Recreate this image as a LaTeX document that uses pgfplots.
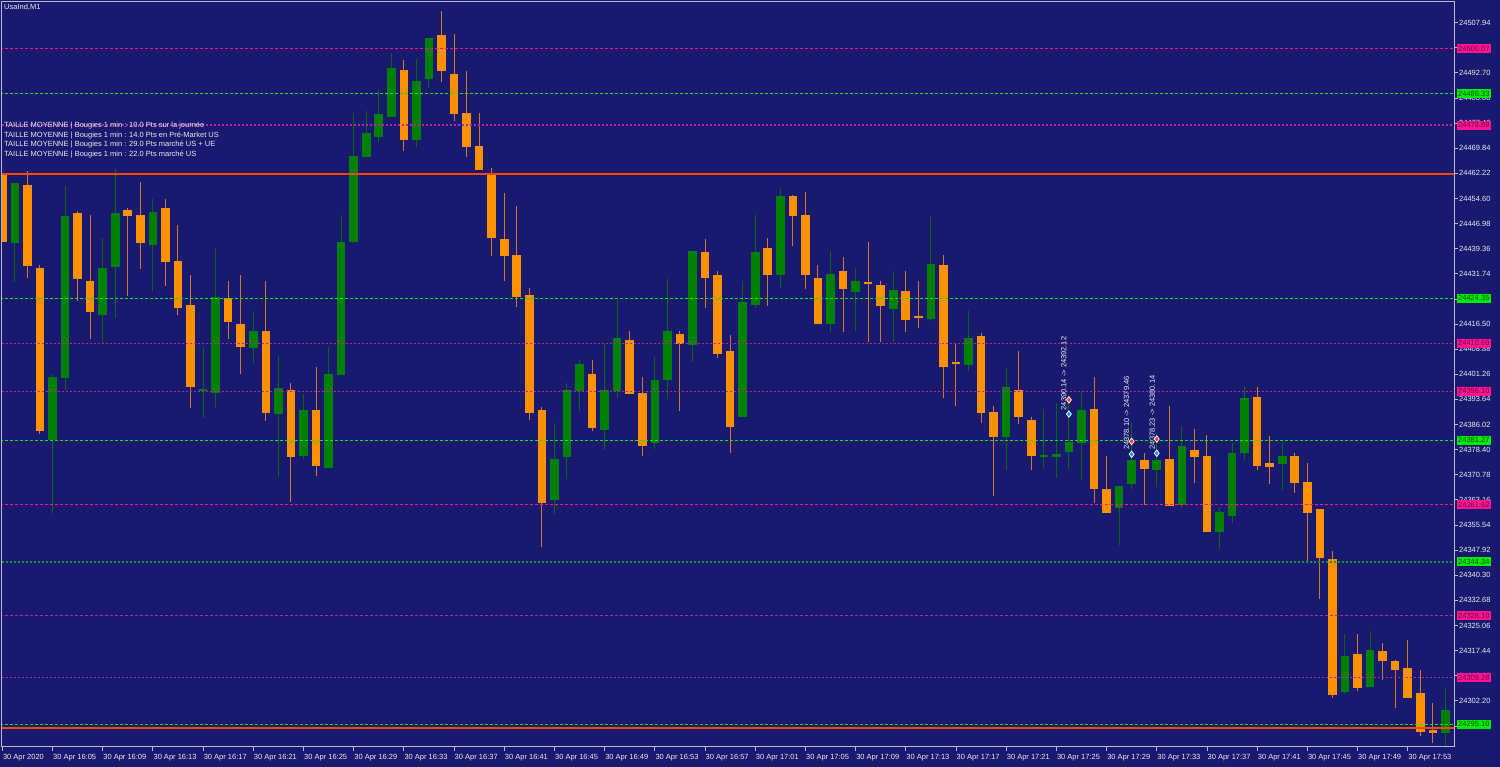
\documentclass[border=0pt]{standalone}
\usepackage{fontspec}
\setmainfont{Liberation Sans}
\usepackage{pgfplots}
\pgfplotsset{compat=1.18}
\usepackage{pgfplotstable}

\definecolor{bg}{RGB}{25,25,112}
\definecolor{frame}{RGB}{185,185,210}
\definecolor{bull}{RGB}{0,128,0}
\definecolor{bullwick}{RGB}{0,110,0}
\definecolor{bear}{RGB}{255,145,0}
\definecolor{bearwick}{RGB}{215,120,40}
\definecolor{lvlpink}{RGB}{255,20,147}
\definecolor{lvlpurple}{RGB}{175,40,160}
\definecolor{lvlgreen}{RGB}{0,235,0}
\definecolor{lvldkgreen}{RGB}{20,150,60}
\definecolor{dayline}{RGB}{255,69,0}
\definecolor{txt}{RGB}{235,235,235}
\definecolor{redmark}{RGB}{255,60,30}
\definecolor{bluemark}{RGB}{30,144,255}

% candles, 1 min, 30 Apr 16:01 = 0
\pgfplotstableread{
i o h l c
1 24441.2 24459.4 24429.4 24459.4
4 24381.4 24401.3 24359.3 24400.4
5 24400.3 24458.4 24396.5 24449.4
8 24419.5 24442.6 24410.7 24433.6
9 24434.1 24463.5 24418.5 24450.4
12 24440.5 24454.5 24426.6 24450.6
16 24396.5 24409.5 24388.1 24396.6
17 24395.5 24439.7 24391.2 24424.7
20 24409.4 24420.5 24404.3 24414.4
22 24389.5 24406.8 24370.2 24397.4
24 24376.6 24395.3 24375.5 24390.5
26 24373.1 24409.5 24373.1 24401.6
27 24401.1 24449.6 24401.1 24441.5
28 24441.5 24480.5 24441.2 24467.5
29 24467.3 24481.3 24467.3 24474.4
30 24473.4 24487.5 24471.4 24480.3
31 24479.4 24498.7 24479.4 24494.4
33 24472.4 24497.2 24470.3 24490.3
34 24490.8 24503.4 24488.2 24503.4
44 24363.2 24386.6 24359.1 24375.6
45 24376.3 24398.6 24369.4 24396.5
46 24396.3 24405.6 24390.3 24404.4
48 24384.4 24410.7 24378.5 24396.5
49 24396.3 24423.8 24394.0 24412.3
52 24380.4 24406.6 24378.5 24399.6
53 24399.6 24430.4 24394.0 24414.4
55 24410.4 24438.7 24405.1 24438.7
59 24388.6 24429.7 24388.6 24423.3
60 24422.3 24449.6 24421.3 24438.5
62 24431.4 24457.5 24427.4 24455.4
66 24416.5 24438.7 24414.2 24431.6
68 24426.2 24433.5 24414.5 24429.6
71 24421.1 24432.7 24411.0 24426.9
74 24418.1 24449.4 24417.5 24434.7
77 24404.3 24420.5 24402.4 24412.5
80 24382.4 24403.4 24372.5 24397.4
83 24376.5 24390.7 24372.8 24376.6
84 24376.3 24392.5 24369.8 24377.3
85 24377.6 24395.0 24372.5 24380.7
86 24380.4 24396.2 24369.2 24390.5
89 24360.7 24367.5 24349.5 24367.5
90 24368.2 24386.4 24366.5 24375.3
92 24372.3 24383.4 24367.2 24375.3
94 24361.7 24385.6 24360.7 24379.5
97 24353.4 24361.1 24348.2 24359.4
98 24358.4 24380.4 24356.3 24377.5
99 24377.6 24397.7 24375.3 24394.3
102 24374.3 24380.7 24366.2 24376.6
107 24305.0 24322.7 24304.3 24315.9
109 24306.5 24323.5 24306.5 24317.7
115 24292.6 24306.5 24288.6 24299.5
}\upbars

\pgfplotstableread{
i o h l c
0 24462.3 24462.3 24441.5 24441.5
2 24458.7 24462.8 24430.4 24434.1
3 24433.6 24434.5 24383.1 24384.1
6 24450.4 24450.6 24423.3 24430.2
7 24429.7 24449.6 24412.0 24420.3
10 24451.3 24451.7 24425.1 24449.4
11 24449.6 24459.7 24433.2 24441.3
13 24451.7 24454.5 24428.1 24435.5
14 24435.7 24446.6 24419.3 24421.5
15 24422.3 24431.6 24391.2 24397.4
18 24424.5 24429.7 24412.0 24417.3
19 24416.6 24431.4 24401.3 24409.4
21 24414.4 24429.6 24387.2 24389.5
23 24396.5 24398.6 24362.4 24376.3
25 24390.5 24403.6 24370.5 24373.6
32 24493.6 24496.6 24469.1 24472.2
35 24504.4 24511.5 24490.1 24493.3
36 24492.4 24504.5 24478.2 24480.2
37 24480.5 24493.4 24467.3 24470.3
38 24470.5 24480.5 24463.3 24463.3
39 24462.4 24463.8 24437.2 24442.6
40 24442.6 24456.2 24429.6 24437.3
41 24437.5 24452.4 24421.5 24424.7
42 24425.4 24427.4 24387.4 24389.7
43 24390.5 24391.5 24349.0 24362.4
47 24401.6 24405.6 24384.2 24385.2
50 24411.6 24414.5 24395.2 24395.2
51 24395.7 24400.6 24376.5 24379.5
54 24413.5 24414.4 24390.3 24410.4
56 24438.5 24442.6 24421.5 24430.4
57 24431.4 24432.6 24406.2 24407.5
58 24408.5 24413.2 24377.5 24385.4
61 24439.7 24442.7 24422.1 24431.4
63 24455.4 24455.7 24440.3 24449.4
64 24449.6 24456.5 24427.2 24431.4
65 24430.6 24434.5 24416.5 24416.5
67 24432.6 24436.8 24414.2 24427.2
69 24429.4 24441.5 24411.2 24428.6
70 24428.6 24429.6 24411.2 24422.1
72 24426.4 24432.6 24414.2 24417.6
73 24418.8 24429.6 24415.3 24418.2
75 24434.5 24437.5 24394.2 24403.6
76 24404.7 24410.5 24391.5 24404.6
78 24412.9 24413.7 24386.4 24389.5
79 24389.8 24391.7 24364.4 24382.2
81 24396.5 24408.5 24386.2 24388.4
82 24387.4 24388.4 24372.3 24376.5
87 24390.7 24400.6 24362.5 24366.5
88 24366.4 24376.6 24359.3 24359.3
91 24375.3 24377.5 24361.7 24372.5
93 24375.6 24391.7 24361.4 24361.4
95 24378.3 24384.7 24368.2 24376.3
96 24376.6 24382.8 24353.4 24353.4
100 24394.5 24397.5 24372.1 24373.6
101 24374.5 24382.6 24368.0 24373.3
103 24376.6 24377.6 24365.2 24368.4
104 24368.5 24374.5 24344.5 24359.3
105 24360.4 24360.4 24333.1 24345.5
106 24345.5 24347.7 24303.2 24304.0
108 24316.5 24322.7 24305.2 24306.2
110 24317.4 24319.7 24308.6 24314.3
111 24314.3 24314.6 24300.0 24311.6
112 24312.4 24320.7 24303.3 24303.3
113 24304.5 24311.6 24291.4 24292.6
114 24293.4 24301.7 24289.4 24292.4
}\downbars

\newcommand{\mtfont}{\fontsize{7.5}{8}\selectfont}

\begin{document}
\begin{tikzpicture}[x=1pt,y=1pt]
\fill[bg] (0,0) rectangle (1500,767);

\begin{axis}[
    at={(2pt,20pt)}, anchor=south west,
    scale only axis, width=1452pt, height=745pt,
    xmin=-0.024, xmax=115.69,
    ymin=24288.2, ymax=24514.2,
    scaled x ticks=false, scaled y ticks=false,
    axis line style={frame, line width=1pt},
    tick align=outside, major tick length=4pt,
    tick style={frame, line width=0.8pt},
    xtick pos=left, ytick pos=right,
    xtick={0,4,...,112},
    xticklabels={30 Apr 2020, 30 Apr 16:05, 30 Apr 16:09, 30 Apr 16:13, 30 Apr 16:17, 30 Apr 16:21, 30 Apr 16:25, 30 Apr 16:29, 30 Apr 16:33, 30 Apr 16:37, 30 Apr 16:41, 30 Apr 16:45, 30 Apr 16:49, 30 Apr 16:53, 30 Apr 16:57, 30 Apr 17:01, 30 Apr 17:05, 30 Apr 17:09, 30 Apr 17:13, 30 Apr 17:17, 30 Apr 17:21, 30 Apr 17:25, 30 Apr 17:29, 30 Apr 17:33, 30 Apr 17:37, 30 Apr 17:41, 30 Apr 17:45, 30 Apr 17:49, 30 Apr 17:53},
    x tick label style={anchor=north west, inner sep=0pt, xshift=0.5pt, yshift=-3pt},
    ytick={24507.94,24500.32,24492.70,24485.08,24477.46,24469.84,24462.22,24454.60,24446.98,24439.36,24431.74,24424.12,24416.50,24408.88,24401.26,24393.64,24386.02,24378.40,24370.78,24363.16,24355.54,24347.92,24340.30,24332.68,24325.06,24317.44,24309.82,24302.20,24294.58},
    yticklabels={24507.94,24500.32,24492.70,24485.08,24477.46,24469.84,24462.22,24454.60,24446.98,24439.36,24431.74,24424.12,24416.50,24408.88,24401.26,24393.64,24386.02,24378.40,24370.78,24363.16,24355.54,24347.92,24340.30,24332.68,24325.06,24317.44,24309.82,24302.20,24294.58},
    y tick label style={anchor=west, inner sep=0pt, xshift=1pt},
    ticklabel style={font=\mtfont, text=txt},
]

% wicks
\addplot[forget plot, draw=none, no markers,
    error bars/.cd, y dir=both, y explicit, error mark=none,
    error bar style={draw=bullwick, line width=1pt}]
    table[x=i, y expr={(\thisrow{h}+\thisrow{l})/2}, y error expr={(\thisrow{h}-\thisrow{l})/2}] {\upbars};
\addplot[forget plot, draw=none, no markers,
    error bars/.cd, y dir=both, y explicit, error mark=none,
    error bar style={draw=bearwick, line width=1pt}]
    table[x=i, y expr={(\thisrow{h}+\thisrow{l})/2}, y error expr={(\thisrow{h}-\thisrow{l})/2}] {\downbars};
% bodies
\addplot[forget plot, draw=none, no markers,
    error bars/.cd, y dir=both, y explicit, error mark=none,
    error bar style={draw=bull, line width=8.6pt}]
    table[x=i, y expr={(\thisrow{o}+\thisrow{c})/2}, y error expr={max((\thisrow{c}-\thisrow{o})/2,0.25)}] {\upbars};
\addplot[forget plot, draw=none, no markers,
    error bars/.cd, y dir=both, y explicit, error mark=none,
    error bar style={draw=bear, line width=8.6pt}]
    table[x=i, y expr={(\thisrow{o}+\thisrow{c})/2}, y error expr={max((\thisrow{o}-\thisrow{c})/2,0.25)}] {\downbars};

% levels
\addplot[lvlpink, line width=1pt, dash pattern=on 3pt off 2pt] coordinates {(-1,24500.07) (117,24500.07)};
\addplot[lvlgreen, line width=1pt, dash pattern=on 3pt off 2pt] coordinates {(-1,24486.33) (117,24486.33)};
\addplot[lvlpurple, line width=1.4pt, dash pattern=on 2pt off 2pt] coordinates {(-1,24476.88) (117,24476.88)};
\addplot[dayline, line width=2pt] coordinates {(-1,24462.05) (117,24462.05)};
\addplot[lvlgreen, line width=1pt, dash pattern=on 3pt off 2pt] coordinates {(-1,24424.35) (117,24424.35)};
\addplot[lvlpurple, line width=1.4pt, dash pattern=on 2pt off 2pt] coordinates {(-1,24410.69) (117,24410.69)};
\addplot[lvlpurple, line width=1.4pt, dash pattern=on 2pt off 2pt] coordinates {(-1,24396.10) (117,24396.10)};
\addplot[lvlgreen, line width=1pt, dash pattern=on 3pt off 2pt] coordinates {(-1,24381.27) (117,24381.27)};
\addplot[lvlpink, line width=1pt, dash pattern=on 3pt off 2pt] coordinates {(-1,24361.62) (117,24361.62)};
\addplot[lvldkgreen, line width=1.4pt, dash pattern=on 2pt off 2pt] coordinates {(-1,24344.34) (117,24344.34)};
\addplot[lvlpurple, line width=1pt, dash pattern=on 3pt off 2pt] coordinates {(-1,24328.10) (117,24328.10)};
\addplot[lvlpurple, line width=1.4pt, dash pattern=on 2pt off 2pt] coordinates {(-1,24309.28) (117,24309.28)};
\addplot[lvlgreen, line width=1pt, dash pattern=on 3pt off 2pt] coordinates {(-1,24295.10) (117,24295.10)};
\addplot[dayline, line width=2pt] coordinates {(-1,24294.0) (117,24294.0)};

% trades
\addplot[only marks, mark=diamond*, mark size=3.3pt, mark options={fill=bluemark, draw=white, line width=0.7pt}]
    coordinates {(85,24389.2) (90,24377.0) (92,24377.3)};
\addplot[only marks, mark=diamond*, mark size=3.3pt, mark options={fill=redmark, draw=white, line width=0.7pt}]
    coordinates {(85,24393.5) (90,24380.9) (92,24381.6)};
\node[rotate=90, font=\mtfont, text=txt, inner sep=0pt] at (axis cs:84.6,24401.5) {24390.14 -> 24392.12};
\node[rotate=90, font=\mtfont, text=txt, inner sep=0pt] at (axis cs:89.6,24389.5) {24378.10 -> 24379.46};
\node[rotate=90, font=\mtfont, text=txt, inner sep=0pt] at (axis cs:91.65,24389.7) {24378.23 -> 24380.14};

\coordinate (L1) at (axis cs:115.69,24500.07);
\coordinate (L2) at (axis cs:115.69,24486.33);
\coordinate (L3) at (axis cs:115.69,24476.88);
\coordinate (L4) at (axis cs:115.69,24424.35);
\coordinate (L5) at (axis cs:115.69,24410.69);
\coordinate (L6) at (axis cs:115.69,24396.10);
\coordinate (L7) at (axis cs:115.69,24381.27);
\coordinate (L8) at (axis cs:115.69,24361.62);
\coordinate (L9) at (axis cs:115.69,24344.34);
\coordinate (L10) at (axis cs:115.69,24328.10);
\coordinate (L11) at (axis cs:115.69,24309.28);
\coordinate (L12) at (axis cs:115.69,24295.10);
\end{axis}

\tikzset{pbox/.style={anchor=west, font=\mtfont, inner xsep=1.5pt, inner ysep=0pt, minimum height=9pt, fill=lvlpink, text={rgb,255:red,120;green,0;blue,60}},
         gbox/.style={pbox, fill=lvlgreen, text={rgb,255:red,0;green,80;blue,0}}}
\node[pbox] at ([xshift=2.5pt]L1) {24500.07};
\node[gbox] at ([xshift=2.5pt]L2) {24486.33};
\node[pbox] at ([xshift=2.5pt]L3) {24476.88};
\node[gbox] at ([xshift=2.5pt]L4) {24424.35};
\node[pbox] at ([xshift=2.5pt]L5) {24410.69};
\node[pbox] at ([xshift=2.5pt]L6) {24396.10};
\node[gbox] at ([xshift=2.5pt]L7) {24381.27};
\node[pbox] at ([xshift=2.5pt]L8) {24361.62};
\node[gbox] at ([xshift=2.5pt]L9) {24344.34};
\node[pbox] at ([xshift=2.5pt]L10) {24328.10};
\node[pbox] at ([xshift=2.5pt]L11) {24309.28};
\node[gbox] at ([xshift=2.5pt]L12) {24295.10};

\node[anchor=west, font=\mtfont, text=txt, inner sep=0pt] at (4,760) {UsaInd,M1};
\node[anchor=west, font=\mtfont, text=txt, inner sep=0pt] at (4,641) {TAILLE MOYENNE | Bougies 1 min : 10.0 Pts sur la journée};
\node[anchor=west, font=\mtfont, text=txt, inner sep=0pt] at (4,631.6) {TAILLE MOYENNE | Bougies 1 min : 14.0 Pts en Pré-Market US};
\node[anchor=west, font=\mtfont, text=txt, inner sep=0pt] at (4,622.2) {TAILLE MOYENNE | Bougies 1 min : 29.0 Pts marché US + UE};
\node[anchor=west, font=\mtfont, text=txt, inner sep=0pt] at (4,612.7) {TAILLE MOYENNE | Bougies 1 min : 22.0 Pts marché US};

\pgfresetboundingbox
\path[use as bounding box] (0,0) rectangle (1500,767);
\end{tikzpicture}
\end{document}
